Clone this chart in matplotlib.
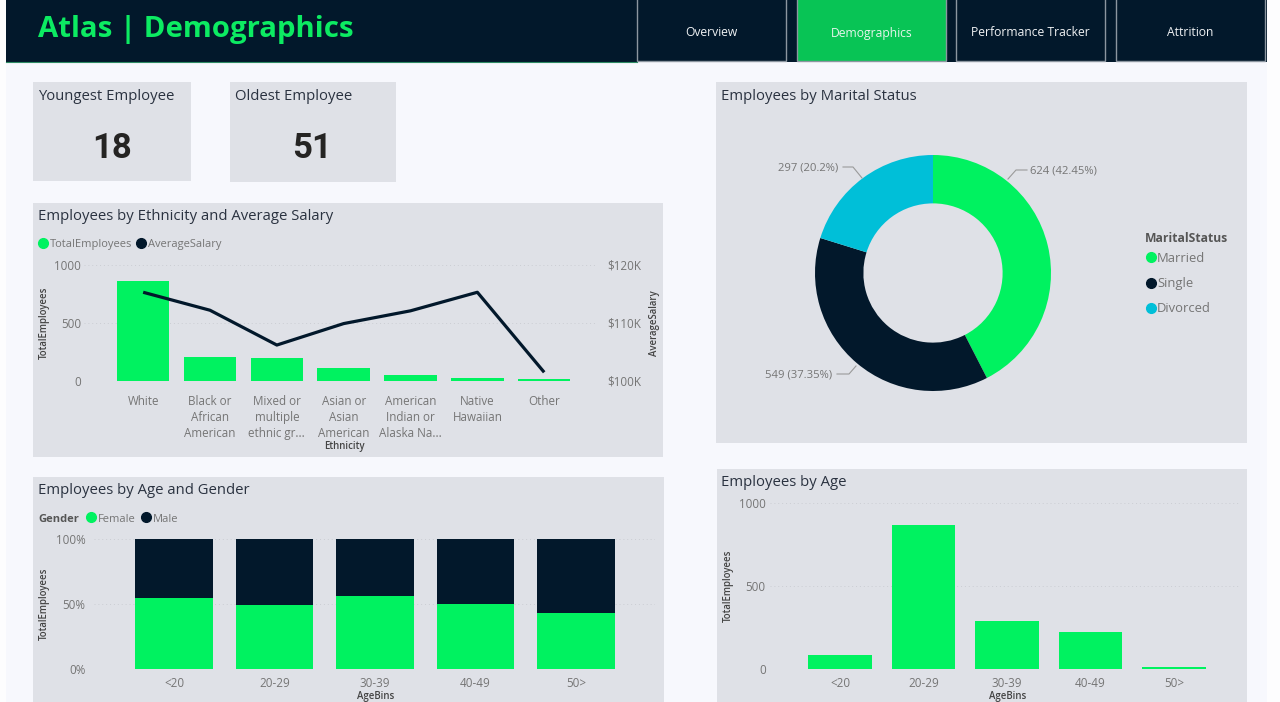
import matplotlib
matplotlib.use("Agg")
import matplotlib.pyplot as plt
from matplotlib.lines import Line2D
from matplotlib.patches import Rectangle
from matplotlib.ticker import FuncFormatter

W, H = 1280, 702
NAVY = "#02182B"
GREEN = "#00F260"
TEAL = "#00BFD8"
PANEL = "#DFE1E7"
BG = "#F7F8FD"
TICK = "#757575"
TITLE = "#2A3240"

ethnicity = ["White", "Black or\nAfrican\nAmerican", "Mixed or\nmultiple\nethnic gr...",
             "Asian or\nAsian\nAmerican", "American\nIndian or\nAlaska Na...",
             "Native\nHawaiian", "Other"]
eth_total = [860, 205, 195, 110, 50, 25, 15]
eth_salary = [115.3, 112.2, 106.2, 109.9, 112.1, 115.3, 101.5]

age_bins = ["<20", "20-29", "30-39", "40-49", "50>"]
female_pct = [54.5, 49.5, 56.5, 50, 43]
male_pct = [45.5, 50.5, 43.5, 50, 57]
age_total = [82, 870, 290, 220, 10]

marital = ["Married", "Single", "Divorced"]
marital_counts = [624, 549, 297]
marital_labels = ["624 (42.45%)", "549 (37.35%)", "297 (20.2%)"]
marital_colors = [GREEN, NAVY, TEAL]

tabs = ["Overview", "Demographics", "Performance Tracker", "Attrition"]

plt.rcParams["font.family"] = ["Open Sans", "DejaVu Sans"]

fig = plt.figure(figsize=(W / 100, H / 100), dpi=100, facecolor="#FDFDFE")


def fx(x):
    return x / W


def fy(y):
    return 1 - y / H


def box(l, t, r, b, color, edge="none", lw=0):
    # negative zorder so the boxes stay behind the axes
    fig.add_artist(Rectangle((fx(l), fy(b)), (r - l) / W, (b - t) / H, transform=fig.transFigure,
                             facecolor=color, edgecolor=edge, linewidth=lw, zorder=-5))


def label(x, y, s, size, color=TICK, ha="left", va="center", **kw):
    fig.text(fx(x), fy(y), s, fontsize=size, color=color, ha=ha, va=va, **kw)


def dot(x, y, color, size=7):
    fig.add_artist(Line2D([fx(x)], [fy(y)], marker="o", markersize=size, color=color,
                          linestyle="none", transform=fig.transFigure))


def leader(xs, ys, color="#9A9A9A"):
    fig.add_artist(Line2D([fx(x) for x in xs], [fy(y) for y in ys], color=color, lw=0.8,
                          transform=fig.transFigure))


def px_ax(l, t, r, b):
    ax = fig.add_axes([fx(l), fy(b), (r - l) / W, (b - t) / H])
    ax.patch.set_alpha(0)
    for s in ax.spines.values():
        s.set_visible(False)
    ax.tick_params(length=0, labelsize=8.4, labelcolor=TICK)
    ax.yaxis.grid(True, linestyle=(0, (1, 3)), color="#CBCDD3", lw=0.7)
    ax.set_axisbelow(True)
    return ax


# page
box(6, 0, 1267, 702, BG)
box(6, 0, 1267, 62, NAVY)
leader([6, 637], [61.5, 61.5], color="#2E8B64")
label(38, 29, "Atlas | Demographics", 21.2, color="#0CEB62", weight="bold")

tab_lefts = [637, 797, 956, 1116]
for name, left in zip(tabs, tab_lefts):
    active = name == "Demographics"
    box(left, -2, left + 149, 61, "#08C455" if active else NAVY, edge="#8C96A0", lw=1)
    label(left + 74.5, 33, name, 8.7, color="#E6F5EC" if active else "#F0F2F4", ha="center", weight="medium")

# panels
for l, t, r, b in [(33, 82, 191, 181), (230, 82, 396, 182), (33, 203, 663, 457),
                   (33, 477, 664, 702), (716, 82, 1247, 443), (717, 469, 1247, 702)]:
    box(l, t, r, b, PANEL)

label(38, 96, "Youngest Employee", 10.7, color=TITLE)
label(235, 96, "Oldest Employee", 10.7, color=TITLE)
label(112.5, 149, "18", 25, color="#252423", ha="center", family="Roboto", weight="bold")
label(312.5, 149, "51", 25, color="#252423", ha="center", family="Roboto", weight="bold")

# ethnicity combo chart
label(38, 216, "Employees by Ethnicity and Average Salary", 10.7, color=TITLE)
dot(43, 243, GREEN)
label(50, 244, "TotalEmployees", 8.0)
dot(141, 243, NAVY)
label(148, 244, "AverageSalary", 8.0)

ax = px_ax(84, 265, 596, 381)
xs = list(range(len(ethnicity)))
ax.bar(xs, eth_total, width=0.785, color=GREEN)
ax.set_xlim(-0.885, 6.775)
ax.set_ylim(0, 1000)
ax.set_yticks([0, 500, 1000])
ax.set_xticks(xs)
ax.set_xticklabels(ethnicity, linespacing=1.32)
ax.tick_params(axis="x", pad=10)
ax.tick_params(axis="y", pad=2)
ax2 = ax.twinx()
ax2.patch.set_alpha(0)
for s in ax2.spines.values():
    s.set_visible(False)
ax2.plot(xs, eth_salary, color=NAVY, lw=2.3, solid_capstyle="butt")
ax2.set_ylim(100, 120)
ax2.set_yticks([100, 110, 120])
ax2.yaxis.set_major_formatter(FuncFormatter(lambda v, _: "$%dK" % v))
ax2.tick_params(length=0, labelsize=8.4, labelcolor=TICK, pad=8)
label(44, 323, "TotalEmployees", 6.9, color="#444444", rotation=90, ha="center", weight="semibold")
label(654, 323, "AverageSalary", 6.9, color="#444444", rotation=90, ha="center", weight="semibold")
label(344.5, 447, "Ethnicity", 6.9, color="#444444", ha="center", weight="semibold")

# age and gender stacked
label(38, 490, "Employees by Age and Gender", 10.7, color=TITLE)
label(38, 519, "Gender", 8.0, color="#555555", weight="bold")
dot(91, 517, GREEN)
label(98, 519, "Female", 8.0)
dot(146, 517, NAVY)
label(153, 519, "Male", 8.0)

ax = px_ax(94, 539, 655, 669)
xs = list(range(len(age_bins)))
ax.bar(xs, female_pct, width=0.776, color=GREEN)
ax.bar(xs, male_pct, width=0.776, bottom=female_pct, color=NAVY)
ax.set_xlim(-0.796, 4.786)
ax.set_ylim(0, 100)
ax.set_yticks([0, 50, 100])
ax.set_yticklabels(["0%", "50%", "100%"])
ax.set_xticks(xs)
ax.set_xticklabels(age_bins)
ax.tick_params(axis="x", pad=6)
ax.tick_params(axis="y", pad=6)
label(44, 604, "TotalEmployees", 6.9, color="#444444", rotation=90, ha="center", weight="semibold")
label(376, 697, "AgeBins", 6.9, color="#444444", ha="center", weight="semibold")

# marital donut
label(721, 97, "Employees by Marital Status", 10.7, color=TITLE)
ax = fig.add_axes([fx(815), fy(391), 236 / W, 236 / H])
ax.pie(marital_counts, colors=marital_colors, startangle=90, counterclock=False, radius=1,
       wedgeprops={"width": 0.41, "linewidth": 0})
ax.set_xlim(-1, 1)
ax.set_ylim(-1, 1)
label(1030, 171, marital_labels[0], 8.1)
label(832, 375, marital_labels[1], 8.1, ha="right")
label(838, 168, marital_labels[2], 8.1, ha="right")
leader([1008, 1016, 1027], [179, 170, 170])
leader([837, 849, 856], [374, 374, 366])
leader([843, 853, 862], [167, 167, 178])

label(1145, 238, "MaritalStatus", 8.7, color="#555555", weight="bold")
for name, color, y in zip(marital, marital_colors, [257, 283, 308]):
    dot(1151, y, color)
    label(1157, y + 1, name, 9.4)

# employees by age
label(721, 482, "Employees by Age", 10.7, color=TITLE)
ax = px_ax(770, 503, 1241, 668.5)
ax.bar(xs, age_total, width=0.766, color=GREEN)
ax.set_xlim(-0.838, 4.802)
ax.set_ylim(0, 1000)
ax.set_yticks([0, 500, 1000])
ax.set_xticks(xs)
ax.set_xticklabels(age_bins)
ax.tick_params(axis="x", pad=6)
ax.tick_params(axis="y", pad=3)
label(728, 586, "TotalEmployees", 6.9, color="#444444", rotation=90, ha="center", weight="semibold")
label(1008, 697, "AgeBins", 6.9, color="#444444", ha="center", weight="semibold")

fig.savefig("out.png", dpi=100, facecolor=fig.get_facecolor())
